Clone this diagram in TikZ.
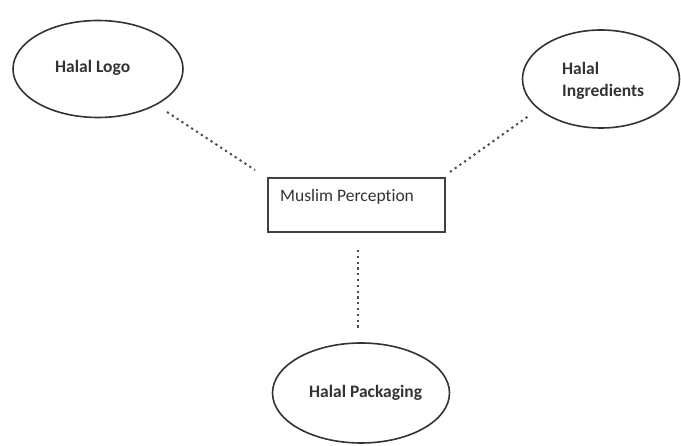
\documentclass[tikz,border=0pt]{standalone}
\usepackage{fontspec}
\setmainfont[Ligatures=NoCommon]{Carlito}
\usetikzlibrary{shapes.geometric}
\begin{document}
\begin{tikzpicture}[x=1pt,y=-1pt,
  oval/.style={draw=black!80,line width=1.6pt,ellipse,inner sep=0pt},
  boxnode/.style={draw=black!75,line width=1.8pt,inner sep=0pt},
  label/.style={font=\fontsize{17.5}{22}\selectfont,text=black!80,inner sep=0pt,anchor=base west,align=left},
  boldlabel/.style={label,font=\fontsize{17.5}{22}\bfseries},
  link/.style={draw=black!70,line width=2pt,dash pattern=on 2.2pt off 3.6pt}]
\useasboundingbox (0,0) rectangle (681,446);
% concept ovals
\node[oval,minimum width=170pt,minimum height=97pt] (logo) at (98,69) {};
\node[oval,minimum width=157pt,minimum height=98pt] (ingr) at (601,79) {};
\node[oval,minimum width=177pt,minimum height=100pt] (pack) at (361,393) {};
% central box
\node[boxnode,minimum width=177pt,minimum height=54pt] (mp) at (356.5,205) {};
% texts (base anchor of a two-line node sits on its last line)
\node[boldlabel] (tlogo) at (55,73) {Halal Logo};
\node[boldlabel] (tingr) at (562,97) {Halal\\Ingredients};
\node[boldlabel] (tpack) at (309,398) {Halal Packaging};
\node[label] (tmp) at (280,202) {Muslim Perception};
% dotted connectors
\coordinate (l1) at (167,112); \coordinate (l2) at (255,170);
\coordinate (r1) at (450,172); \coordinate (r2) at (530,115);
\coordinate (v1) at (358,250); \coordinate (v2) at (358,330);
\draw[link] (l1) -- (l2);
\draw[link] (r1) -- (r2);
\draw[link] (v1) -- (v2);
\end{tikzpicture}
\end{document}
